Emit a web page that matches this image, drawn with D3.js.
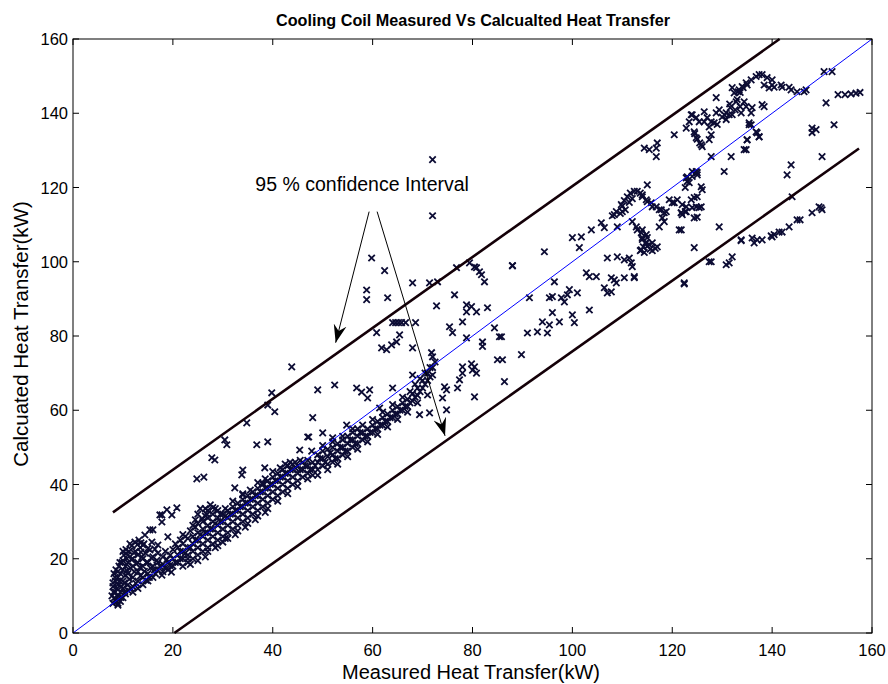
<!DOCTYPE html>
<html>
<head>
    <title>Cooling Coil Measured Vs Calcualted Heat Transfer</title>
    <script src="https://cdn.jsdelivr.net/npm/d3@7"></script>
    <style>
        body { margin: 0; background: #fff; }
        text { font-family: "Liberation Sans", Arial, sans-serif; fill: #000; }
    </style>
</head>
<body>
<svg id="chart" width="888" height="684"></svg>
<script>
// measured (kW), calculated (kW)
var bandPoints = [
    [8,8],[8.5,9],[9,8],[9,10],[9.5,11],[10,9.5],[10,12],[8.5,11],[8,12.5],[8,13.5],[8.5,14],[9,15],[9,13],
    [9.5,16],[10,14],[10,17],[10.5,18],[10,19.5],[10.5,15.5],[11,13],[11,16],[11,19],[11,21],[11.5,17.5],
    [12,15],[12,18],[12,20],[12,12.5],[12.5,22],[13,14],[13,16.5],[13,19],[13,21],[13.5,23],[14,13],[14,15],
    [14,18],[14,20],[14.5,21.5],[15,14],[15,16],[15,19],[15.5,17.5],[16,15],[16,18],[16,20.5],[16.5,16],
    [17,17],[17,19],[17,21.5],[18,16.5],[18,18.5],[18,20.5],[18.5,22],[19,17],[19,19],[19.5,21],[20,18],
    [20,20],[20,22.5],[9,7.5],[9.5,8.5],[10.5,10.5],[11,11.5],[12,11],[13,12],[7.8,10],[8.2,16],[8.6,17],
    [9.2,18],[9.8,19],[10.2,21],[10.6,22.5],[11.2,22],[11.8,23.5],[12.4,24.5],[13.2,25],
    [21,19],[21,21],[21,23],[21.5,25],[22,18],[22,20],[22,22],[22,24],[22.5,26],[23,19],[23,21],[23,23],
    [23,25.5],[23.5,27.5],[24,20],[24,22],[24,24],[24,26],[24.5,28.5],[24.5,30.5],[25,21],[25,23],[25,25],
    [25,27],[25,29.5],[25,32],[25.5,33.5],[26,22],[26,24],[26,26],[26,28],[26,30],[26.5,31.5],[26.5,33.5],
    [27,23],[27,25],[27,27],[27,29],[27,31],[27,33],[27.5,34.5],[28,24],[28,26],[28,28],[28,30],[28,32],
    [28.5,33.5],[29,25],[29,27],[29,29],[29,31],[29,33],[30,26],[30,28],[30,30],[30,32],[23.5,18.5],
    [26.5,20.5],[28.5,23],[30,24.5],
    [31,27],[31,29],[31,31],[31,33],[32,28],[32,30],[32,32],[32,34],[33,29],[33,31],[33,33],[33,35],[34,30],
    [34,32],[34,34],[34,36],[35,31],[35,33],[35,35],[35,37],[36,32],[36,34],[36,36],[36,38],[37,33],[37,35],
    [37,37],[37,39],[38,34],[38,36],[38,38],[38,40],[39,35],[39,37],[39,39],[39,41],[40,36],[40,38],[40,40],
    [40,42],[41,37],[41,39],[41,41],[41,43],[42,38],[42,40],[42,42],[42,44],[43,39],[43,41],[43,43],[43,45],
    [44,40],[44,42],[44,44],[44.5,46],[45,41],[45,43],[45,45],[46,42],[46,44],[46,46],[47,43],[47,45],[48,44],
    [48,46],[48,42.5],[30.5,25.5],[32.5,26.5],[34.5,28.5],[36.5,30.5],[38.5,32.5],
    [49,44],[49,46],[49,48],[50,45],[50,47],[50,49],[51,45.5],[51,47.5],[51,49.5],[52,46],[52,48],[52,50],
    [53,47],[53,49],[53,51],[54,48],[54,50],[54,52],[55,49],[55,51],[55,53],[56,50],[56,52],[56,54],[57,51],
    [57,53],[57,55],[58,52],[58,54],[59,53],[59,55],[60,54],[60,56],[61,55],[61,57],[62,56],[62,58],[63,57],
    [63,59],[64,58],[64,60],[65,59],[65,61],[66,60],[66,62],[67,61],[67,63],[68,62.5],[68,64.5],[69,64],
    [69,66],[70,66],[70,68],[71,68],[71,70],[71.5,71.5],[72,69.5]
];

var bandFill = [
    [8.3,9.5],[8.8,12],[9.3,14],[9.7,12.5],[10.3,13.5],[10.8,16.8],[11.3,14.5],[11.7,19.8],[12.3,16.5],
    [12.7,18.7],[13.4,17.6],[13.8,20.5],[14.3,16.6],[14.7,19],[15.3,15],[15.7,20.2],[16.3,17],[16.8,19.6],
    [17.4,18],[17.8,15.6],[18.4,17.5],[18.8,19.8],[19.4,18.2],[19.7,16.4],[8.1,11],[8.7,8.4],[9.6,9.6],
    [10.4,11.2],[11.6,12],[12.6,13.4],[13.5,15.4],[14.6,14.2],[8.4,15],[9,16.6],[9.4,19],[10,22],[10.8,20],
    [11.4,24],[12.2,21.6],[12.9,23.8],[13.6,21.8],[14.2,24],[15,22.8],[15.8,24.5],[16.4,22.6],
    [20.5,19],[21.5,20],[22.5,21.5],[23.5,23],[24.5,25],[25.5,26.5],[26.5,27],[27.5,28],[28.5,29.5],
    [29.5,30],[30.5,31.5],[31.5,32],[32.5,33],[33.5,34],[34.5,35],[35.5,36],[36.5,37],[37.5,38],[38.5,39],
    [39.5,40],[40.5,41],[41.5,42],[42.5,43],[43.5,44],[44.5,44.5],[45.5,44],[46.5,45],[47.5,44],[21.5,22],
    [23,20],[25,19.5],[27,22],[29,23.5],[31,25.5],[33,27.5],[35,29.5],[37,31.5],[39,33.5],[41,35.5],
    [43,37.5],[45,39.5],[47,41.5],[20.5,24],[22,26.5],[24,29],[25.8,30.8],[26.8,32],[28,33.8],[29.5,32],
    [30.5,33.5],[32,35.5],[34,37.5],[35.5,38.5],[37,40.5],[38.5,41.5],[40,43.5],[41.5,44.5],[42.5,45.5],
    [43.5,46],[44,45.5],[45.5,46.5],[47,46.5],
    [48.5,45],[49.5,47],[50.5,46],[51.5,48.5],[52.5,47],[53.5,50],[54.5,49],[55.5,52],[56.5,51],[57.5,54],
    [58.5,53],[59.5,54],[60.5,55],[61.5,56],[62.5,57],[63.5,58],[64.5,59],[65.5,60],[66.5,61],[67.5,62],
    [68.5,63.5],[69.5,65],[70.5,67],[71.5,69],[49,42.5],[51,44],[53,45.5],[55,47.5],[57,49.5],[59,51.5],
    [61,53.5],[63,55.5],[65,57.5],[67,59.5],[69,62],[50,50.5],[52,51.5],[54,53],[56,55],[58,56],[60,57.5],
    [62,59.5],[64,61.5],[66,63.5],[67.5,65],[68.5,67],[69.5,68.5],[70.5,70],[72,71.5],[72.5,73]
];

var lowOutliers = [
    [17.8,31.8],[18.8,33.2],[20.8,33.7],[19.8,31.8],[17.8,29.9],[14.4,26.4],[16,27.8],[13.6,24.3],[14,23.7],
    [19,25.9],[17,23.7],[15.4,22.4],[15.4,27.8],[17.4,31.8],[24.8,41.5],[26.2,42],[27.8,47.2],[28.4,46.6],
    [30.4,52],[30.8,50.7],[34.8,56.6],[36.8,50.7],[39,51.5],[39.8,64.7],[39,61.4],[40.4,59.6],[43.8,71.7],
    [34,43.9],[33.8,42.6],[32.4,39.1],[34,37.2],[38,40.4],[38.4,44.5],[45.4,49.3],[47.8,49],[47.2,52.8],
    [48,58],[47,52.8],[50,53.9],[52,52.6],[54.8,56],[49,65.5],[52.4,66.8],[56.8,66],[57.8,64.9],[59.4,65.5],
    [59,63.3],[64,66],[61.4,60.6],[60.8,80.9],[61.8,76.8],[62.8,76.3],[63.8,77.6],[64.8,78.4],[65.4,80.3],
    [68,76.8],[71.8,75.5],[72,74.4],[74.4,66.3],[74.8,65.5],[74,63.3],[74.8,60.1],[69.4,58.8],[71.4,59.3],
    [68,69.5],[71,64.1]
];

var midPoints = [
    [72,127.5],[72,112.4],[59.8,101],[62.4,97.6],[58.8,92.4],[58.8,89.8],[63,90.3],[68,94.3],[71.4,94.3],
    [73,94.6],[76.4,91.1],[72.8,88.1],[76.8,98.4],[79.4,99.7],[80.8,98.4],[81.4,97.3],[81.8,96.5],[82.4,94.6],
    [80.4,98.6],[78.8,88.4],[79.8,87.9],[80.8,86.5],[78.8,86.5],[83,87.6],[78,83.8],[75.4,82.5],[76,80.9],
    [64,83.6],[64.6,83.6],[65.2,83.6],[65.8,83.6],[66.6,83.6],[68.6,83.6],[78,71.7],[78,70],[80.4,71.7],
    [80.8,70],[77.4,68.2],[77,66],[80.4,63.6],[82,78.4],[82,77.2],[85,73.6],[84.4,82.2],[78.8,79.5],
    [85.4,79.8],[79.8,72.5],[80,70.8],[88,98.9],[94.4,102.7],[100,106.5],[101.8,106.7],[101.4,103.8],
    [103.8,108.6],[105.8,110.5],[106.4,109.2],[108,112.4],[109,109.4],[88,99],[89.8,75],[85.8,79.8],
    [86,73.6],[86.4,67.7],[91,80.8],[93,81.1],[95,80.8],[96,86.3],[94,83.8],[95.4,83],[97.4,83.8],
    [100,85.7],[100.4,83.6],[103.4,87],[91.4,90.3],[95.4,90.3],[96,90.6],[97.8,90.3],[98.4,89.2],[99.4,92.5],
    [99,91.1],[101,91.6],[96.4,94.6],[106.4,93],[107,91.6],[107.8,91.9],[107.8,95.7],[108.4,95.1],
    [108.8,94.3],[110.4,95.7],[112.4,95.7],[102.8,97],[103.4,96],[104.8,96],[107,101],[109,101.3],
    [111.4,101],[111.8,99.7],[112,98.7],[112.4,96],[110.4,100.5]
];

var upperPoints = [
    [109.6,113],[110,115],[110.4,116.5],[111,117.5],[111.6,118.5],[112.4,119],[113,119],[113.6,118.5],
    [114,118],[110.6,114],[111.4,116],[112,117],[114,117.5],[115,116.2],[116,114.8],[117.4,114],[118.4,113.2],
    [120,115.9],[121,116.7],[122,115.4],[122.6,113.5],[124,114.6],[125,112],[122.6,120],[123,121.6],
    [124,123],[125,124],[122,112.7],[117.4,109.4],[118.4,110.8],[121.4,108.6],[112,110.8],[112.8,109.4],
    [114,108.6],[114.8,107.3],[114,106],[114.6,105],[115,104.2],[115.6,103.4],[116,103],[116.6,103.6],
    [117,104],[115,106.5],[114.2,104],[113.6,103],[114.4,102.5],[115,120.7],[124.4,103.8],[122.4,94.3],
    [110,113.5],[108.4,112.7],[108.8,113.5],[109.8,115.4],[114.8,116.7],[115.8,115.9],[116.8,114.8],
    [117.8,114],[118.8,113.5],[121.8,113.2],[122.8,113.5],[119.4,116.7],[120.4,115.9],[123.8,116.7],
    [125.8,114.8],[118,111.8],[113,108.6],[113.8,107.8],[114,106.5],[114.8,105.1],[115.4,104.6],[113.8,103.2],
    [116,105.1],[129.4,109.4],[127.8,100],[130.8,99.2],[132,101.3],[131.4,99.7],[127.4,100],[122.4,94],
    [133.8,105.9],[136,106.4],[138,105.9],[140,106.7],[141.4,108],[143.4,109.4],[145,111.3],[145.6,111.3],
    [148,113.2],[149.8,114.5],[149.4,114.8],[150,114],[142,108],[140.4,107.3],[139.8,107],[137,105.9],
    [136.4,105.1],[133.8,105.7],[144,117.5],[143,123.4],[143.8,126.1],[150,128.3],[148,136],[148.8,135.6],
    [148,134.8],[152.4,136.9],[150.8,142.8],[150.4,151.2],[152,151.2],[153.2,145],[154.6,145],[155.8,145.2],
    [156.8,145.4],[157.6,145.6],[127.8,128.3],[131.8,128.3],[130.4,124.3],[134.4,130.2],[135,132.9],
    [136.8,135],[137.4,133.7],[135.8,136.9],[134.8,130.2],[135.4,136.9],[137,134.7],
    [124,124.3],[125,123.4],[123,122.9],[125.8,120.2],[125,117.5],[124.8,114.8],[125.4,114.6],[124.4,111.8],
    [122.8,114.8],[121.8,113.2],[121.8,108.6],[122.8,122.6],[123.4,121.3],[124.8,124.3],[126,119.4],
    [124.4,117.3],[114.4,130.6],[115.4,130.2],[116.8,130.6],[117,132],[116.8,128.3],[120.4,134.2],
    [122.8,136],[123.8,139.6],[123.4,137.7],[124.4,135],[124.8,133.4],[125.8,131.5],[124.5,134.5],
    [125,133],[125.5,132],[126,131],[126.4,140.4],[127,138.8],[127.8,137.7],[128.8,140.1],[129.4,140.9],
    [128.4,137.4],[127.4,136.3],[124,139.6],[124.8,138.8],[125.4,137.7],[126.4,137.7],[127.8,134.2],
    [127.4,132.9],[130,139],[130.8,138.3],[129,137],[128.8,144.2],[131.6,141.5],[132.6,140.9],[133.6,141.8],
    [133,143.7],[133.6,145.6],[134.2,146.9],[133.2,145.8],[135,147.6],[136,141.5],[135.8,140.1],[138,142.3],
    [134.4,143.1],[134.8,141.8],[133.8,140.1],[132,139.6],[130.8,140.1],[132,146.9],[133.4,146.3],
    [134,147.2],[134.8,148.2],[135.8,149],[136.8,149.9],[137.4,150.4],[138,150.4],[139,149.6],[140,149],
    [132.8,143.1],[131.4,139.6],[138.4,141.8],[135.4,137.4],[132.4,145.5],[131.5,142.5],[130.5,139.5],
    [138.4,147.6],[139.4,146.8],[140.4,147],[142,147],[143.8,146.3],[145,145.8],[146.4,145.8],
    [143.4,147],[146.8,146.3],[141.8,147.6],[140,147.6],[137.4,133.6],[135,132.8]
];

var xTicks = [0, 20, 40, 60, 80, 100, 120, 140, 160];
var yTicks = [0, 20, 40, 60, 80, 100, 120, 140, 160];

// confidence band and 1:1 line end points
var upperBound = [[8, 32.5], [141.5, 160]];
var lowerBound = [[20.3, 0], [157.4, 130.5]];
var perfectLine = [[0, 0], [160, 160]];

var noteText = "95 % confidence Interval";
var notePos = [57.9, 119.1];
var noteArrows = [
    [[59.3, 113.5], [52.6, 78.2]],
    [[60.9, 113.5], [74.5, 53.1]]
];

var svg = d3.select("#chart");
var plotLeft = 73, plotRight = 872, plotTop = 39, plotBottom = 633;

var x = d3.scaleLinear().domain([0, 160]).range([plotLeft, plotRight]);
var y = d3.scaleLinear().domain([0, 160]).range([plotBottom, plotTop]);

svg.append("rect").attr("width", 888).attr("height", 684).attr("fill", "#fff");

var defs = svg.append("defs");
defs.append("marker")
    .attr("id", "head")
    .attr("viewBox", "-18 -7 20 14")
    .attr("refX", 0).attr("refY", 0)
    .attr("markerWidth", 20).attr("markerHeight", 14)
    .attr("markerUnits", "userSpaceOnUse")
    .attr("orient", "auto")
    .append("path")
    .attr("d", "M0,0L-18,-6.5L-12,0L-18,6.5Z")
    .attr("fill", "#000");

var line = d3.line().x(function(d) { return x(d[0]); }).y(function(d) { return y(d[1]); });

// points
var allPoints = bandPoints.concat(bandFill, lowOutliers, midPoints, upperPoints);
svg.append("g").selectAll("path")
    .data(allPoints)
    .enter().append("path")
    .attr("d", function(d) {
        var px = x(d[0]), py = y(d[1]), s = 3.2;
        return "M" + (px - s) + "," + (py - s) + "L" + (px + s) + "," + (py + s) +
               "M" + (px - s) + "," + (py + s) + "L" + (px + s) + "," + (py - s);
    })
    .attr("stroke", "#0c0c34")
    .attr("stroke-width", 1.8)
    .attr("fill", "none");

// 1:1 line
svg.append("path").attr("d", line(perfectLine))
    .attr("stroke", "#0000ff").attr("stroke-width", 1).attr("fill", "none");

// confidence lines
[upperBound, lowerBound].forEach(function(b) {
    svg.append("path").attr("d", line(b))
        .attr("stroke", "#140008").attr("stroke-width", 2.6).attr("fill", "none");
});

// frame
svg.append("rect")
    .attr("x", plotLeft).attr("y", plotTop)
    .attr("width", plotRight - plotLeft).attr("height", plotBottom - plotTop)
    .attr("fill", "none").attr("stroke", "#000").attr("stroke-width", 1);

// ticks inward on four sides
var tk = 6;
var tg = svg.append("g").attr("stroke", "#000").attr("stroke-width", 1);
xTicks.forEach(function(t) {
    tg.append("line").attr("x1", x(t)).attr("x2", x(t)).attr("y1", plotBottom).attr("y2", plotBottom - tk);
    tg.append("line").attr("x1", x(t)).attr("x2", x(t)).attr("y1", plotTop).attr("y2", plotTop + tk);
});
yTicks.forEach(function(t) {
    tg.append("line").attr("x1", plotLeft).attr("x2", plotLeft + tk).attr("y1", y(t)).attr("y2", y(t));
    tg.append("line").attr("x1", plotRight).attr("x2", plotRight - tk).attr("y1", y(t)).attr("y2", y(t));
});

svg.append("g").selectAll("text")
    .data(xTicks).enter().append("text")
    .attr("x", function(d) { return x(d); })
    .attr("y", 656)
    .attr("text-anchor", "middle")
    .style("font-size", "16.5px")
    .text(function(d) { return d; });

svg.append("g").selectAll("text")
    .data(yTicks).enter().append("text")
    .attr("x", 68)
    .attr("y", function(d) { return y(d) + 6; })
    .attr("text-anchor", "end")
    .style("font-size", "16.5px")
    .text(function(d) { return d; });

// labels
svg.append("text")
    .attr("x", 473).attr("y", 26)
    .attr("text-anchor", "middle")
    .style("font-size", "16.2px").style("font-weight", "bold")
    .text("Cooling Coil Measured Vs Calcualted Heat Transfer");

svg.append("text")
    .attr("x", 471).attr("y", 679)
    .attr("text-anchor", "middle")
    .style("font-size", "20px")
    .text("Measured Heat Transfer(kW)");

svg.append("text")
    .attr("transform", "translate(28,334) rotate(-90)")
    .attr("text-anchor", "middle")
    .style("font-size", "20.5px")
    .text("Calcuated Heat Transfer(kW)");

// annotation
svg.append("text")
    .attr("x", x(notePos[0])).attr("y", y(notePos[1]))
    .attr("text-anchor", "middle")
    .style("font-size", "19.5px")
    .text(noteText);

noteArrows.forEach(function(a) {
    svg.append("path").attr("d", line(a))
        .attr("stroke", "#000").attr("stroke-width", 1).attr("fill", "none")
        .attr("marker-end", "url(#head)");
});
</script>
</body>
</html>
